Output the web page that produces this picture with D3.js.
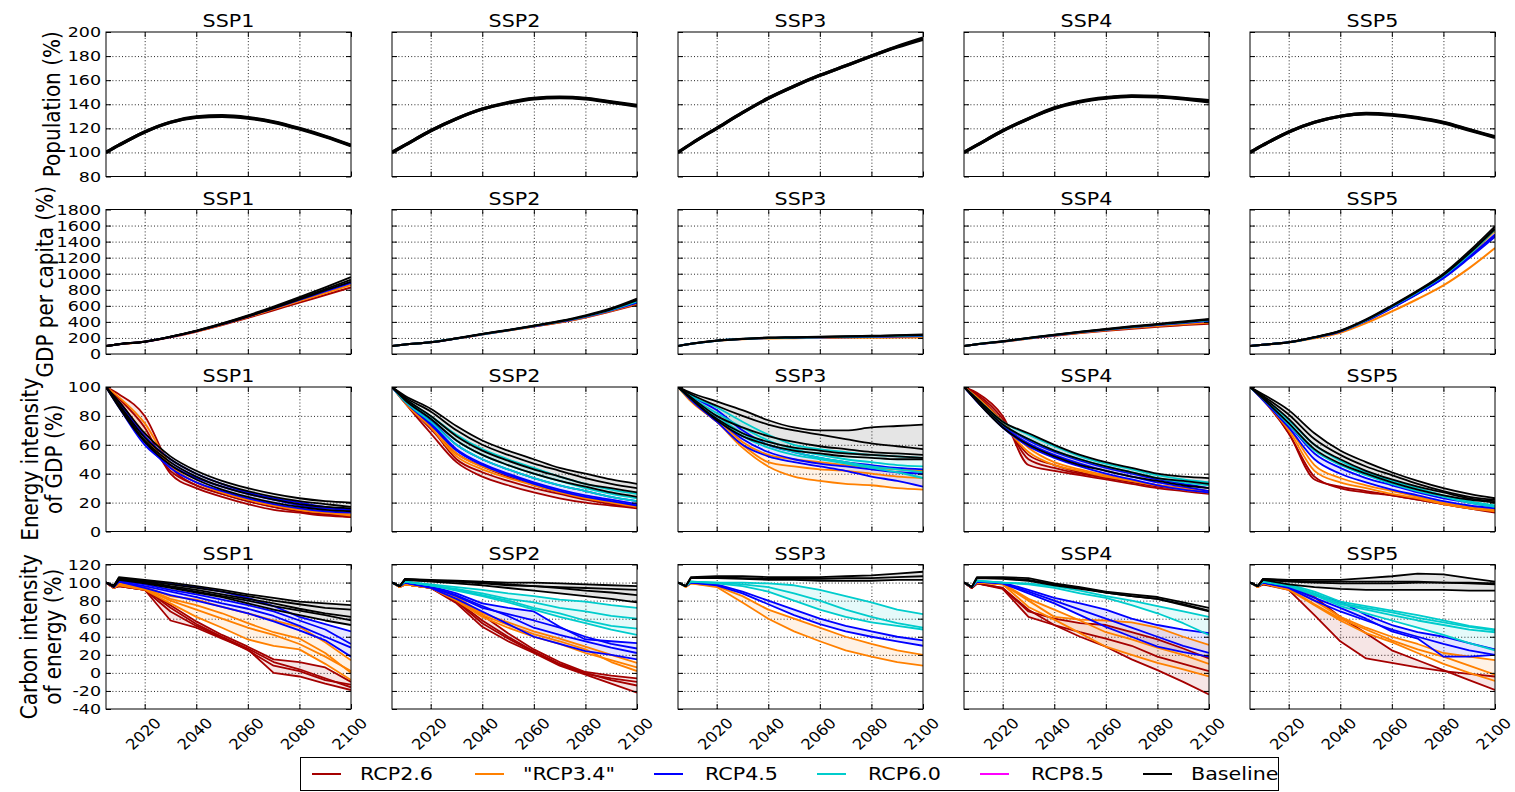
<!DOCTYPE html>
<html><head><meta charset="utf-8">
<script src="https://cdn.jsdelivr.net/npm/d3@7"></script>
<style>body{margin:0;background:#fff}svg{font-family:"DejaVu Sans",sans-serif}</style>
</head><body><svg id="c" width="1515" height="792"></svg>
<script>
// ---------------- DATA ----------------
const years = [2005, 2010, 2020, 2030, 2040, 2050, 2060, 2070, 2080, 2090, 2100];
const yearsCarbon = [2005, 2008, 2010, 2020, 2030, 2040, 2050, 2060, 2070, 2080, 2090, 2100];
const xTicks = [2020, 2040, 2060, 2080, 2100];
const ssps = ["SSP1", "SSP2", "SSP3", "SSP4", "SSP5"];
const groupKeys = ["r26", "r34", "r45", "r60", "r85", "base"];
const groupNames = ["RCP2.6", "\"RCP3.4\"", "RCP4.5", "RCP6.0", "RCP8.5", "Baseline"];
const popTicks = [80, 100, 120, 140, 160, 180, 200];
const gdpTicks = [0, 200, 400, 600, 800, 1000, 1200, 1400, 1600, 1800];
const eiTicks = [0, 20, 40, 60, 80, 100];
const ciTicks = [-40, -20, 0, 20, 40, 60, 80, 100, 120];

// Population (%)
const popS1 = { base: [[100,106,117,125,129.5,130.5,129,125.5,120,113.5,106],[100,106,117,125,129,130,128.5,125,119.5,113,105.5]] };
const popS2 = { base: [[100,106,118,128,136,141.5,145,146,145,142,139],[100,106,118,128,136,141,144.5,145.5,144.5,141.5,138.5]] };
const popS3 = { base: [[100,107,120,133,145,155,164,172,180,188,195],[100,107,120,133,145,155,164,172,180,187.5,194]] };
const popS4 = { base: [[100,106,118,128,137,142.5,145.5,147,146.5,145,143],[100,106,118,128,136.5,142,145,146.5,146,144.5,142]] };
const popS5 = { base: [[100,106,117,125,130,132.5,131.5,129,125,119,113],[100,106,117,125,130,132,131,128.5,124.5,118.5,112.5]] };

// GDP per capita (%)
const gdpS1 = {
  r26: [[100,121,152,208,278,360,450,545,640,735,830]],
  r34: [[100,121,153,210,282,367,460,560,660,760,860]],
  r45: [[100,122,154,212,285,372,468,570,675,780,885]],
  base: [[100,122,154,214,288,376,474,580,692,808,925],[100,122,154,215,290,380,480,590,708,830,958],[100,122,154,214,286,372,468,572,680,792,900]]
};
const gdpS2 = {
  r26: [[100,118,145,192,244,292,342,393,455,532,615]],
  r34: [[100,118,145,192,245,293,344,396,459,538,625]],
  r45: [[100,118,146,193,246,295,347,400,465,546,640]],
  r60: [[100,118,146,194,247,297,350,405,470,552,655]],
  base: [[100,118,146,195,250,300,354,410,480,570,690],[100,118,146,194,248,297,350,404,472,558,670]]
};
const gdpS3 = {
  r34: [[100,126,164,184,194,197,199,201,202,204,205]],
  r45: [[100,127,165,186,198,202,206,210,214,219,225]],
  r60: [[100,127,166,187,200,205,209,214,219,225,232]],
  base: [[100,128,168,190,205,210,215,220,226,233,242],[100,127,166,188,202,207,212,217,222,229,236]]
};
const gdpS4 = {
  r26: [[100,121,154,192,228,260,289,315,340,360,378]],
  r34: [[100,121,155,194,232,265,296,323,350,372,392]],
  r45: [[100,121,156,196,235,270,302,332,360,385,410]],
  r60: [[100,122,157,197,237,273,306,337,366,393,420]],
  base: [[100,122,158,200,241,278,312,345,375,405,437],[100,122,157,198,238,274,307,339,368,397,428]]
};
const gdpS5 = {
  r26: [[100,115,145,205,281,414,578,755,950,1205,1480]],
  r34: [[100,114,142,195,265,385,530,685,855,1070,1320],[100,115,145,205,283,418,585,765,965,1230,1535]],
  r45: [[100,115,145,204,280,412,575,750,945,1195,1460],[100,115,145,205,282,415,580,757,955,1210,1490]],
  r60: [[100,115,146,206,285,420,590,770,975,1240,1550]],
  base: [[100,115,146,210,290,430,604,790,1000,1280,1590],[100,115,146,208,287,425,596,780,985,1255,1560]]
};

// Energy intensity of GDP (%)
const eiS1 = {
  r26: [[100,95,80,45,32,26,21,17,14,12,10],[100,92,72,40,30,24,19,15,13,11,10],[100,90,66,42,32,26,21,17,14,12,11]],
  r34: [[100,93,75,46,34,27,22,18,15,13,11],[100,89,66,45,34,27,22,18,15,13,12]],
  r45: [[100,88,62,44,34,28,23,19,16,14,13],[100,86,60,46,37,31,26,22,18,16,15],[100,89,66,50,40,33,27,23,20,17,15]],
  base: [[100,90,68,52,42,35,30,26,23,21,20],[100,88,65,50,40,33,28,24,21,19,17],[100,87,63,48,38,31,26,22,19,17,16],[100,86,62,46,36,29,24,20,17,15,14]]
};
const eiS2 = {
  r26: [[100,90,72,50,41,35,30,26,22,19,17],[100,89,68,48,38,32,27,23,20,18,16],[100,90,71,54,45,38,32,27,23,20,17]],
  r34: [[100,90,74,54,45,39,33,28,24,21,18],[100,89,72,52,43,37,32,27,23,20,17]],
  r45: [[100,91,77,60,50,43,37,32,28,24,21],[100,90,75,57,47,40,34,29,25,22,19],[100,90,74,56,46,39,33,28,24,21,18]],
  r60: [[100,92,80,67,57,50,44,38,33,29,26],[100,91,78,63,53,46,40,35,30,26,23],[100,90,76,60,50,43,37,32,28,24,21]],
  base: [[100,94,85,73,63,56,50,44,40,36,33],[100,93,83,70,60,53,47,42,37,33,30],[100,92,80,66,56,49,43,38,33,30,27],[100,91,78,63,53,46,40,35,31,27,24]]
};
const eiS3 = {
  r34: [[100,92,78,62,53,50,48,46,44,43,42],[100,91,76,60,48,45,43,42,40,38,37],[100,90,76,58,45,38,35,33,32,30,29]],
  r45: [[100,94,84,70,60,55,51,48,46,44,43],[100,92,78,64,55,50,47,45,43,41,40],[100,91,76,60,52,48,45,42,38,35,31]],
  r60: [[100,94,86,76,67,60,57,55,53,52,51],[100,93,82,72,63,57,53,50,48,46,45],[100,92,80,68,60,55,51,48,45,43,41],[100,92,78,66,58,53,50,47,44,41,37]],
  base: [[100,96,90,84,77,72,70,70,72,73,74],[100,95,87,80,74,70,67,64,61,59,57],[100,93,80,72,66,62,59,57,55,54,53],[100,92,78,68,62,58,56,54,53,52,51],[100,92,77,66,60,56,54,52,51,50,50]]
};
const eiS4 = {
  r26: [[100,96,80,46,42,39,36,33,30,28,26],[100,95,78,50,44,40,37,34,31,29,27],[100,94,76,53,46,41,38,35,32,30,28]],
  r34: [[100,93,76,58,48,43,39,35,32,30,28],[100,92,74,55,46,42,38,35,32,29,27]],
  r45: [[100,91,74,63,55,49,44,40,36,33,30],[100,90,73,61,53,47,42,38,34,31,28],[100,90,72,59,51,45,40,36,32,29,27]],
  r60: [[100,92,76,67,59,52,47,43,39,36,34],[100,91,74,64,56,50,45,41,37,34,32]],
  base: [[100,92,76,68,60,53,48,44,40,38,37],[100,91,74,64,56,50,45,41,37,35,33],[100,90,72,60,52,46,42,38,35,32,30]]
};
const eiS5 = {
  r26: [[100,92,68,38,30,27,25,22,19,16,14],[100,91,68,36,31,28,25,22,19,16,13]],
  r34: [[100,92,72,46,37,32,28,24,20,17,15],[100,91,70,42,34,30,26,23,19,16,14]],
  r45: [[100,92,74,54,44,37,32,27,23,20,17],[100,91,72,50,40,34,29,25,21,18,16]],
  r60: [[100,93,77,60,49,41,35,30,25,21,18],[100,92,74,56,46,39,33,28,24,20,17]],
  base: [[100,95,84,68,56,48,41,35,30,26,23],[100,94,81,64,53,45,39,33,28,24,22],[100,93,78,60,50,42,36,31,27,23,21],[100,92,75,57,47,40,34,29,25,22,20]]
};

// Carbon intensity of energy (%)
const ciS1 = {
  r26: [[100,94,96,92,75,57,42,29,15,12,6,-10],[100,94,96,92,58,50,38,26,0,-4,-12,-19],[100,95,97,93,72,54,40,27,12,4,-6,-16],[100,94,96,92,68,52,39,25,8,2,-8,-13]],
  r34: [[100,95,99,95,85,81,73,66,58,51,34,14],[100,95,98,93,80,70,60,50,42,32,18,2],[100,94,97,92,77,62,50,37,30,26,10,-8],[100,95,98,94,82,75,66,55,45,38,22,0]],
  r45: [[100,96,103,102,99,95,90,83,74,62,54,46],[100,96,102,98,92,87,81,75,68,58,48,32],[100,95,101,94,86,80,73,66,57,47,36,18],[100,95,101,96,90,84,77,71,63,52,40,28]],
  base: [[100,96,106,103,100,96,92,87,83,79,77,75],[100,96,105,102,98,94,90,85,80,76,72,70],[100,97,104,101,96,92,87,82,77,71,66,62],[100,96,104,100,95,90,85,80,74,69,64,58],[100,95,103,99,94,89,84,77,70,64,58,53]]
};
const ciS2 = {
  r26: [[100,95,98,94,81,64,44,26,12,1,-3,-6],[100,95,98,94,77,51,35,22,8,-2,-12,-22],[100,95,98,94,80,58,40,24,10,0,-8,-14],[100,95,98,94,79,55,38,23,9,-1,-6,-10]],
  r34: [[100,95,98,95,84,66,56,46,38,29,20,11],[100,95,98,94,80,62,50,40,32,22,14,6],[100,95,98,94,82,64,53,43,35,26,12,2]],
  r45: [[100,96,100,96,88,77,72,68,51,37,35,33],[100,96,100,95,85,72,65,58,50,40,32,27],[100,96,100,94,82,68,54,40,32,24,20,15],[100,96,100,95,86,74,63,50,42,35,28,22]],
  r60: [[100,96,101,98,95,92,88,85,81,79,75,72],[100,96,101,97,93,88,82,78,72,68,63,60],[100,96,101,97,92,86,80,72,66,58,52,49],[100,96,101,97,91,85,78,70,62,55,48,42]],
  base: [[100,96,104,103,102,101,100,100,99,98,97,96],[100,96,103,102,101,99,97,96,95,94,93,92],[100,96,103,101,99,97,94,91,88,85,82,78],[100,96,104,102,101,100,98,96,94,91,89,86]]
};
const ciS3 = {
  r34: [[100,95,99,96,85,70,60,50,40,32,25,20],[100,95,99,95,78,60,46,35,25,18,12,8]],
  r45: [[100,96,100,98,90,80,70,60,52,46,40,36],[100,96,100,97,88,76,64,54,46,40,35,30]],
  r60: [[100,96,101,100,100,99,97,92,85,78,70,65],[100,96,101,100,98,95,88,80,70,62,55,50],[100,96,101,99,96,90,80,70,62,56,52,48]],
  base: [[100,96,106,107,107,106,106,106,107,108,110,112],[100,96,105,106,105,104,104,104,105,105,106,107],[100,96,105,105,104,103,103,102,102,102,103,103]]
};
const ciS4 = {
  r26: [[100,94,99,94,68,60,55,53,45,37,27,16],[100,94,99,93,62,53,45,38,30,18,10,2],[100,94,99,94,70,53,40,29,15,3,-10,-24]],
  r34: [[100,95,100,98,80,62,59,58,56,50,40,31],[100,95,100,99,82,70,58,45,37,28,20,10],[100,95,100,98,73,59,44,29,20,11,4,-4]],
  r45: [[100,95,101,100,92,83,77,70,60,53,48,44],[100,95,101,99,90,80,70,60,50,40,30,22],[100,95,101,99,88,77,64,51,40,29,23,18]],
  r60: [[100,95,102,100,99,96,91,85,80,74,68,62],[100,95,102,100,98,94,88,83,75,66,55,42]],
  base: [[100,95,106,106,105,99,95,90,87,84,78,72],[100,95,105,105,103,98,94,89,85,82,76,69],[100,95,105,104,102,97,93,89,85,82,75,68]]
};
const ciS5 = {
  r26: [[100,95,98,94,84,62,44,25,14,3,-8,-19],[100,95,98,92,64,35,16,11,6,2,-1,-4]],
  r34: [[100,95,99,94,80,62,50,40,32,22,18,14],[100,95,99,93,76,60,48,36,26,18,8,-2],[100,95,99,92,75,58,44,34,22,10,0,-9]],
  r45: [[100,96,100,95,86,79,64,53,45,40,33,26],[100,96,100,95,83,72,60,46,38,18,18,20],[100,96,100,94,80,68,58,48,40,32,25,20]],
  r60: [[100,96,101,98,90,79,74,69,64,58,52,48],[100,96,101,97,88,77,72,67,61,56,51,47],[100,96,101,97,87,76,70,64,58,53,48,45],[100,96,101,96,86,74,66,58,50,42,33,25]],
  base: [[100,96,104,103,103,103,105,107,110,109,105,101],[100,96,104,102,101,101,101,101,101,100,99,98],[100,96,103,101,100,99,99,99,100,100,100,99],[100,96,103,98,95,93,92,92,92,92,91,91]]
};

// ---------------- STYLE / LAYOUT ----------------
const groupColors = ["#a50000", "#ff8000", "#0000ff", "#00cccc", "#ff00ff", "#000000"];
const SX = 1.18; // horizontal text stretch of the reference
const W = 245, H = 144.5;
const colX = c => 106 + c * 286;
const rowY = r => 32 + r * 177.5;

const rows = [
  { sets: [popS1, popS2, popS3, popS4, popS5], xv: years, dom: [80, 200], ticks: popTicks, curve: d3.curveMonotoneX, lw: 3.2,
    label: [["Population (%)", 52]] },
  { sets: [gdpS1, gdpS2, gdpS3, gdpS4, gdpS5], xv: years, dom: [0, 1800], ticks: gdpTicks, curve: d3.curveMonotoneX, lw: 2,
    label: [["GDP per capita (%)", 45]] },
  { sets: [eiS1, eiS2, eiS3, eiS4, eiS5], xv: years, dom: [0, 100], ticks: eiTicks, curve: d3.curveMonotoneX, lw: 1.8,
    label: [["Energy intensity", 30], ["of GDP (%)", 54]] },
  { sets: [ciS1, ciS2, ciS3, ciS4, ciS5], xv: yearsCarbon, dom: [-40, 120], ticks: ciTicks, curve: d3.curveLinear, lw: 1.8,
    label: [["Carbon intensity", 29], ["of energy (%)", 53]] }
];

const svg = d3.select("#c");
const defs = svg.append("defs");

function stretchedText(parent, x, y, txt, size, extra, sx) {
  return parent.append("text")
    .attr("transform", `translate(${x},${y}) scale(${sx || SX},1)` + (extra || ""))
    .attr("font-size", size).attr("fill", "#000").text(txt);
}

rows.forEach((row, r) => {
  const y0 = rowY(r);
  // y label
  row.label.forEach(([txt, lx]) => {
    stretchedText(svg, lx, y0 + H / 2, txt, "20px", " rotate(-90)")
      .attr("text-anchor", "middle").attr("dominant-baseline", "central");
  });
  row.sets.forEach((set, c) => {
    const x0 = colX(c);
    const xs = d3.scaleLinear().domain([2005, 2100]).range([x0, x0 + W]);
    const ys = d3.scaleLinear().domain(row.dom).range([y0 + H, y0]);
    const g = svg.append("g");
    const id = `clip${r}_${c}`;
    defs.append("clipPath").attr("id", id).append("rect")
      .attr("x", x0).attr("y", y0).attr("width", W).attr("height", H);

    // grid
    const gx = g.append("g").attr("transform", `translate(0,${y0 + H})`)
      .call(d3.axisBottom(xs).tickValues(xTicks.filter(t => t < 2100)).tickSize(-H).tickFormat(""));
    const gy = g.append("g").attr("transform", `translate(${x0},0)`)
      .call(d3.axisLeft(ys).tickValues(row.ticks.filter(t => t > row.dom[0] && t < row.dom[1])).tickSize(-W).tickFormat(""));
    [gx, gy].forEach(a => {
      a.select(".domain").remove();
      a.selectAll("line").attr("stroke", "#000").attr("stroke-width", 1).attr("stroke-dasharray", "1,2.2").attr("opacity", 0.85);
    });

    // data
    const dg = g.append("g").attr("clip-path", `url(#${id})`);
    const line = d3.line().x((d, i) => xs(row.xv[i])).y(d => ys(d)).curve(row.curve);
    groupKeys.forEach((k, gi) => {
      const ls = set[k];
      if (!ls || ls.length < 2 || r < 2) return;
      const area = d3.area().x((d, i) => xs(row.xv[i]))
        .y0((d, i) => ys(d3.min(ls, l => l[i])))
        .y1((d, i) => ys(d3.max(ls, l => l[i]))).curve(row.curve);
      dg.append("path").datum(ls[0]).attr("d", area)
        .attr("fill", groupColors[gi]).attr("fill-opacity", 0.1);
    });
    groupKeys.forEach((k, gi) => {
      (set[k] || []).forEach(l => {
        dg.append("path").datum(l).attr("d", line).attr("fill", "none")
          .attr("stroke", groupColors[gi]).attr("stroke-width", row.lw).attr("stroke-linejoin", "round");
      });
    });

    // ticks (inside, all four sides)
    const tickStyle = a => { a.select(".domain").remove(); a.selectAll("line").attr("stroke", "#000"); a.selectAll("text").remove(); };
    tickStyle(g.append("g").attr("transform", `translate(${x0},0)`)
      .call(d3.axisLeft(ys).tickValues(row.ticks).tickSize(-5).tickFormat("")));
    if (c === 0) {
      row.ticks.forEach(t => {
        stretchedText(g, x0 - 5, ys(t), String(t), "14.8px").attr("text-anchor", "end").attr("dominant-baseline", "central");
      });
    }
    tickStyle(g.append("g").attr("transform", `translate(${x0 + W},0)`)
      .call(d3.axisRight(ys).tickValues(row.ticks).tickSize(-5).tickFormat("")));
    tickStyle(g.append("g").attr("transform", `translate(0,${y0 + H})`)
      .call(d3.axisBottom(xs).tickValues(xTicks).tickSize(-5).tickFormat("")));
    tickStyle(g.append("g").attr("transform", `translate(0,${y0})`)
      .call(d3.axisTop(xs).tickValues(xTicks).tickSize(-5).tickFormat("")));
    if (r === rows.length - 1) {
      xTicks.forEach(t => {
        stretchedText(g, xs(t) - 1, y0 + H + 25, String(t), "14.8px", " rotate(-45)", 1.1)
          .attr("text-anchor", "middle").attr("dominant-baseline", "central");
      });
    }

    // frame
    g.append("rect").attr("x", x0).attr("y", y0).attr("width", W).attr("height", H)
      .attr("fill", "none").attr("stroke", "#000").attr("stroke-width", 1);

    // title
    stretchedText(g, x0 + W / 2, y0 - 5, ssps[c], "17.5px").attr("text-anchor", "middle");
  });
});

// ---------------- LEGEND ----------------
const leg = svg.append("g");
leg.append("rect").attr("x", 300.5).attr("y", 757.5).attr("width", 978).attr("height", 33)
  .attr("fill", "#fff").attr("stroke", "#000").attr("stroke-width", 1);
const legLineX = [312, 475, 654, 817, 980, 1143];
const legTextX = [360, 523, 705, 868, 1031, 1191];
groupNames.forEach((nm, i) => {
  leg.append("line").attr("x1", legLineX[i]).attr("x2", legLineX[i] + 29).attr("y1", 774).attr("y2", 774)
    .attr("stroke", groupColors[i]).attr("stroke-width", 2);
  stretchedText(leg, legTextX[i], 774, nm, "17.5px").attr("dominant-baseline", "central");
});
</script></body></html>
